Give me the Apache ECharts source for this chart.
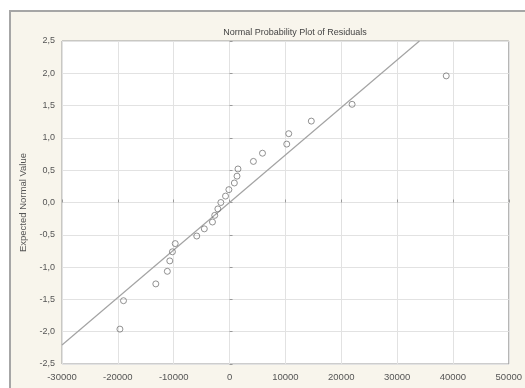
<!DOCTYPE html>
<html><head><meta charset="utf-8">
<script src="https://cdn.jsdelivr.net/npm/echarts@6/dist/echarts.min.js"></script>
<style>html,body{margin:0;padding:0;background:#fff}#c{width:525px;height:388px}</style>
</head><body><div id="c"></div>
<script>
// Residuals (x) and expected normal values (y)
const residuals = [-19630, -18990, -13200, -11140, -10700, -10230, -9730, -5870, -4520, -3060, -2650, -2090, -1560, -720, -120, 860, 1340, 1510, 4270, 5900, 10240, 10600, 14640, 21940, 38800];
const expectedNormal = [-1.96, -1.52, -1.26, -1.065, -0.904, -0.763, -0.636, -0.519, -0.408, -0.302, -0.199, -0.099, 0.0, 0.099, 0.199, 0.302, 0.408, 0.519, 0.636, 0.763, 0.904, 1.065, 1.26, 1.52, 1.96];
// Reference line endpoints
const lineX = [-30000, 34000];
const lineY = [-2.206, 2.5];
// Axis ranges / ticks
const xTicks = [-30000, -20000, -10000, 0, 10000, 20000, 30000, 40000, 50000];
const yTicks = [-2.5, -2.0, -1.5, -1.0, -0.5, 0.0, 0.5, 1.0, 1.5, 2.0, 2.5];
const titleText = 'Normal Probability Plot of Residuals';
const yName = 'Expected Normal Value';

const FONT = '"Liberation Sans", Arial, sans-serif';
const chart = echarts.init(document.getElementById('c'), null, {renderer: 'canvas'});
const pts = residuals.map((x, i) => [x, expectedNormal[i]]);
const linePts = lineX.map((x, i) => [x, lineY[i]]);

chart.setOption({
  animation: false,
  backgroundColor: '#ffffff',
  graphic: [
    {type: 'rect', z: -10, shape: {x: 10, y: 11, width: 530, height: 390},
     style: {fill: '#f8f5ec', stroke: '#a6a6a6', lineWidth: 2}}
  ],
  title: {
    text: titleText, left: 290, top: 23, textAlign: 'center',
    textStyle: {fontFamily: FONT, fontSize: 9, fontWeight: 'normal', color: '#444'}
  },
  grid: {
    left: 62, right: 8, top: 41, bottom: 24,
    show: true, backgroundColor: '#ffffff', borderColor: '#9a9a9a', borderWidth: 1
  },
  xAxis: {
    type: 'value', min: xTicks[0], max: xTicks[xTicks.length - 1], interval: 10000,
    axisLine: {show: false},
    axisTick: {show: true, inside: true, length: 3, lineStyle: {color: '#999'}},
    splitLine: {show: true, lineStyle: {color: '#e2e2e2', width: 1}},
    axisLabel: {fontFamily: FONT, fontSize: 9.5, color: '#555', margin: 8,
      formatter: v => String(v)}
  },
  yAxis: {
    type: 'value', min: yTicks[0], max: yTicks[yTicks.length - 1], interval: 0.5,
    name: yName, nameLocation: 'middle', nameGap: 32, nameRotate: 90,
    nameTextStyle: {fontFamily: FONT, fontSize: 9.5, color: '#555'},
    axisLine: {show: false},
    axisTick: {show: true, inside: true, length: 3, lineStyle: {color: '#999'}},
    splitLine: {show: true, lineStyle: {color: '#e2e2e2', width: 1}},
    axisLabel: {fontFamily: FONT, fontSize: 9, color: '#555', margin: 7,
      formatter: v => v.toFixed(1).replace('.', ',')}
  },
  series: [
    {type: 'line', data: linePts, showSymbol: false, symbol: 'none', z: 2,
     lineStyle: {color: '#a3a3a3', width: 1.2}, silent: true},
    {type: 'scatter', data: pts, symbol: 'circle', symbolSize: 6, z: 3,
     itemStyle: {color: 'rgba(255,255,255,0)', borderColor: '#777', borderWidth: 1}}
  ]
});
</script></body></html>
